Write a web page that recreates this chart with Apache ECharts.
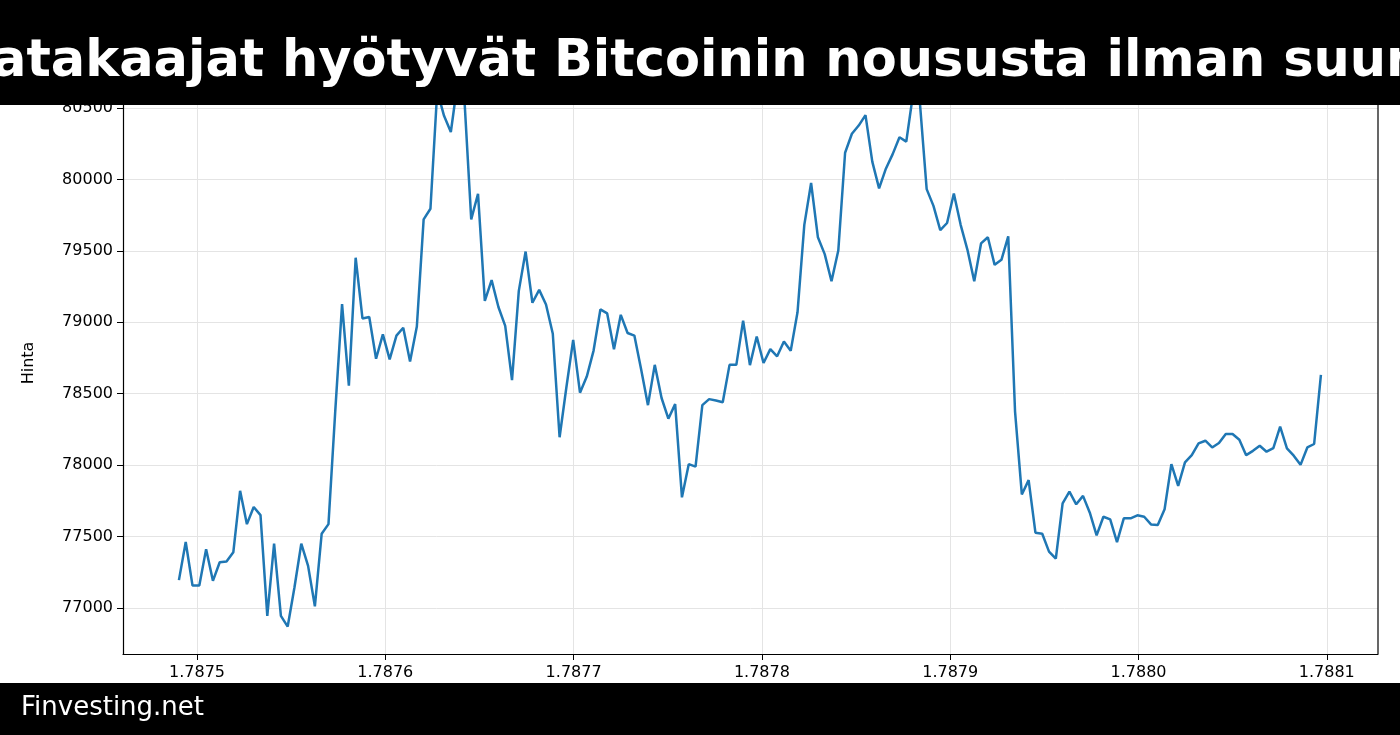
<!DOCTYPE html>
<html lang="fi">
<head>
<meta charset="UTF-8">
<title>Bitcoin</title>
<style>
  html, body { margin: 0; padding: 0; background: #fff; }
  #chart { width: 1400px; height: 735px; }
</style>
</head>
<body>
<div id="chart"></div>
<script src="https://cdn.jsdelivr.net/npm/echarts@6/dist/echarts.min.js"></script>
<script>
// hourly prices (timestamp in seconds)
const startTime = 1787490400;
const stepSeconds = 3610;
const prices = [
  77195, 77462, 77157, 77157, 77412, 77190, 77320, 77325, 77390, 77820,
  77587, 77707, 77650, 76945, 77450, 76945, 76870, 77145, 77450, 77295,
  77012, 77520, 77587, 78380, 79127, 78557, 79452, 79027, 79037, 78745,
  78915, 78740, 78907, 78962, 78725, 78970, 79720, 79795, 80620, 80445,
  80332, 80680, 80560, 79720, 79900,
  79150, 79295, 79107, 78975, 78595, 79220, 79495, 79137, 79227, 79125,
  78920, 78195, 78545, 78877, 78507, 78620, 78802, 79090, 79062, 78812,
  79052, 78925, 78907, 78670, 78420, 78702, 78470, 78325, 78427, 77775,
  78007, 77990, 78420, 78462, 78452, 78440, 78702, 78702, 79012, 78700,
  78900, 78715, 78812, 78762, 78865, 78800, 79070, 79682, 79975, 79595,
  79477, 79287, 79502, 80187, 80320, 80377, 80450, 80125, 79937, 80075,
  80177, 80295, 80265, 80600, 80540, 79932, 79815, 79645, 79695, 79902,
  79682, 79507, 79287, 79552, 79595, 79402, 79437, 79602, 78377, 77795,
  77895, 77527, 77520, 77395, 77345,
  77733, 77815, 77726, 77785, 77667, 77508, 77639, 77620, 77461, 77628,
  77628, 77649, 77639, 77585, 77581, 77691, 78007, 77855, 78019, 78070,
  78152, 78171, 78124, 78155, 78218, 78218, 78178, 78070, 78100, 78136,
  78094, 78119, 78269, 78117, 78066, 78002, 78124, 78148, 78632
];
const xTicks = [1787500000, 1787600000, 1787700000, 1787800000, 1787900000, 1788000000, 1788100000];
const yTicks = [77000, 77500, 78000, 78500, 79000, 79500, 80000, 80500];

const seriesData = prices.map((p, i) => [startTime + i * stepSeconds, p]);

const chart = echarts.init(document.getElementById('chart'));
chart.setOption({
  backgroundColor: '#fff',
  animation: false,
  grid: { left: 123, right: 22, top: 72, bottom: 81 },
  xAxis: {
    type: 'value',
    min: 1787460700,
    max: 1788127190,
    axisLine: { show: true, onZero: false, lineStyle: { color: '#000', width: 1.2 } },
    axisTick: { show: true, length: 6, customValues: xTicks, lineStyle: { color: '#000' } },
    axisLabel: {
      customValues: xTicks,
      color: '#000', fontSize: 16, fontFamily: 'DejaVu Sans', margin: 11,
      formatter: v => (v / 1e9).toFixed(4)
    },
    splitLine: { show: true, lineStyle: { color: '#e4e4e4', width: 1 } }
  },
  yAxis: {
    type: 'value',
    min: 76678,
    max: 80752,
    name: 'Hinta',
    nameLocation: 'middle',
    nameGap: 86,
    nameTextStyle: { color: '#000', fontSize: 16, fontFamily: 'DejaVu Sans' },
    axisLine: { show: true, lineStyle: { color: '#000', width: 1.2 } },
    axisTick: { show: true, length: 6, customValues: yTicks, lineStyle: { color: '#000' } },
    axisLabel: {
      customValues: yTicks, color: '#000', fontSize: 16, fontFamily: 'DejaVu Sans', margin: 10,
      formatter: v => String(v)
    },
    splitLine: { show: true, lineStyle: { color: '#e4e4e4', width: 1 } }
  },
  series: [{
    type: 'line',
    data: seriesData,
    showSymbol: false,
    lineStyle: { color: '#1f77b4', width: 2.5 },
    z: 3
  }],
  graphic: [
    // right spine
    { type: 'line', shape: { x1: 1378, y1: 72, x2: 1378, y2: 654 }, style: { stroke: '#000', lineWidth: 1.2 }, z: 50 },
    { type: 'rect', shape: { x: 0, y: 0, width: 1400, height: 105 }, style: { fill: '#000' }, z: 100 },
    {
      type: 'text', left: -8, top: 37, z: 101,
      style: {
        text: 'atakaajat hyötyvät Bitcoinin noususta ilman suun',
        fill: '#fff', font: 'bold 51px "DejaVu Sans"'
      }
    },
    { type: 'rect', shape: { x: 0, y: 683, width: 1400, height: 52 }, style: { fill: '#000' }, z: 100 },
    {
      type: 'text', left: 21, top: 695, z: 101,
      style: { text: 'Finvesting.net', fill: '#fff', font: '26px "DejaVu Sans"' }
    }
  ]
});
</script>
</body>
</html>
